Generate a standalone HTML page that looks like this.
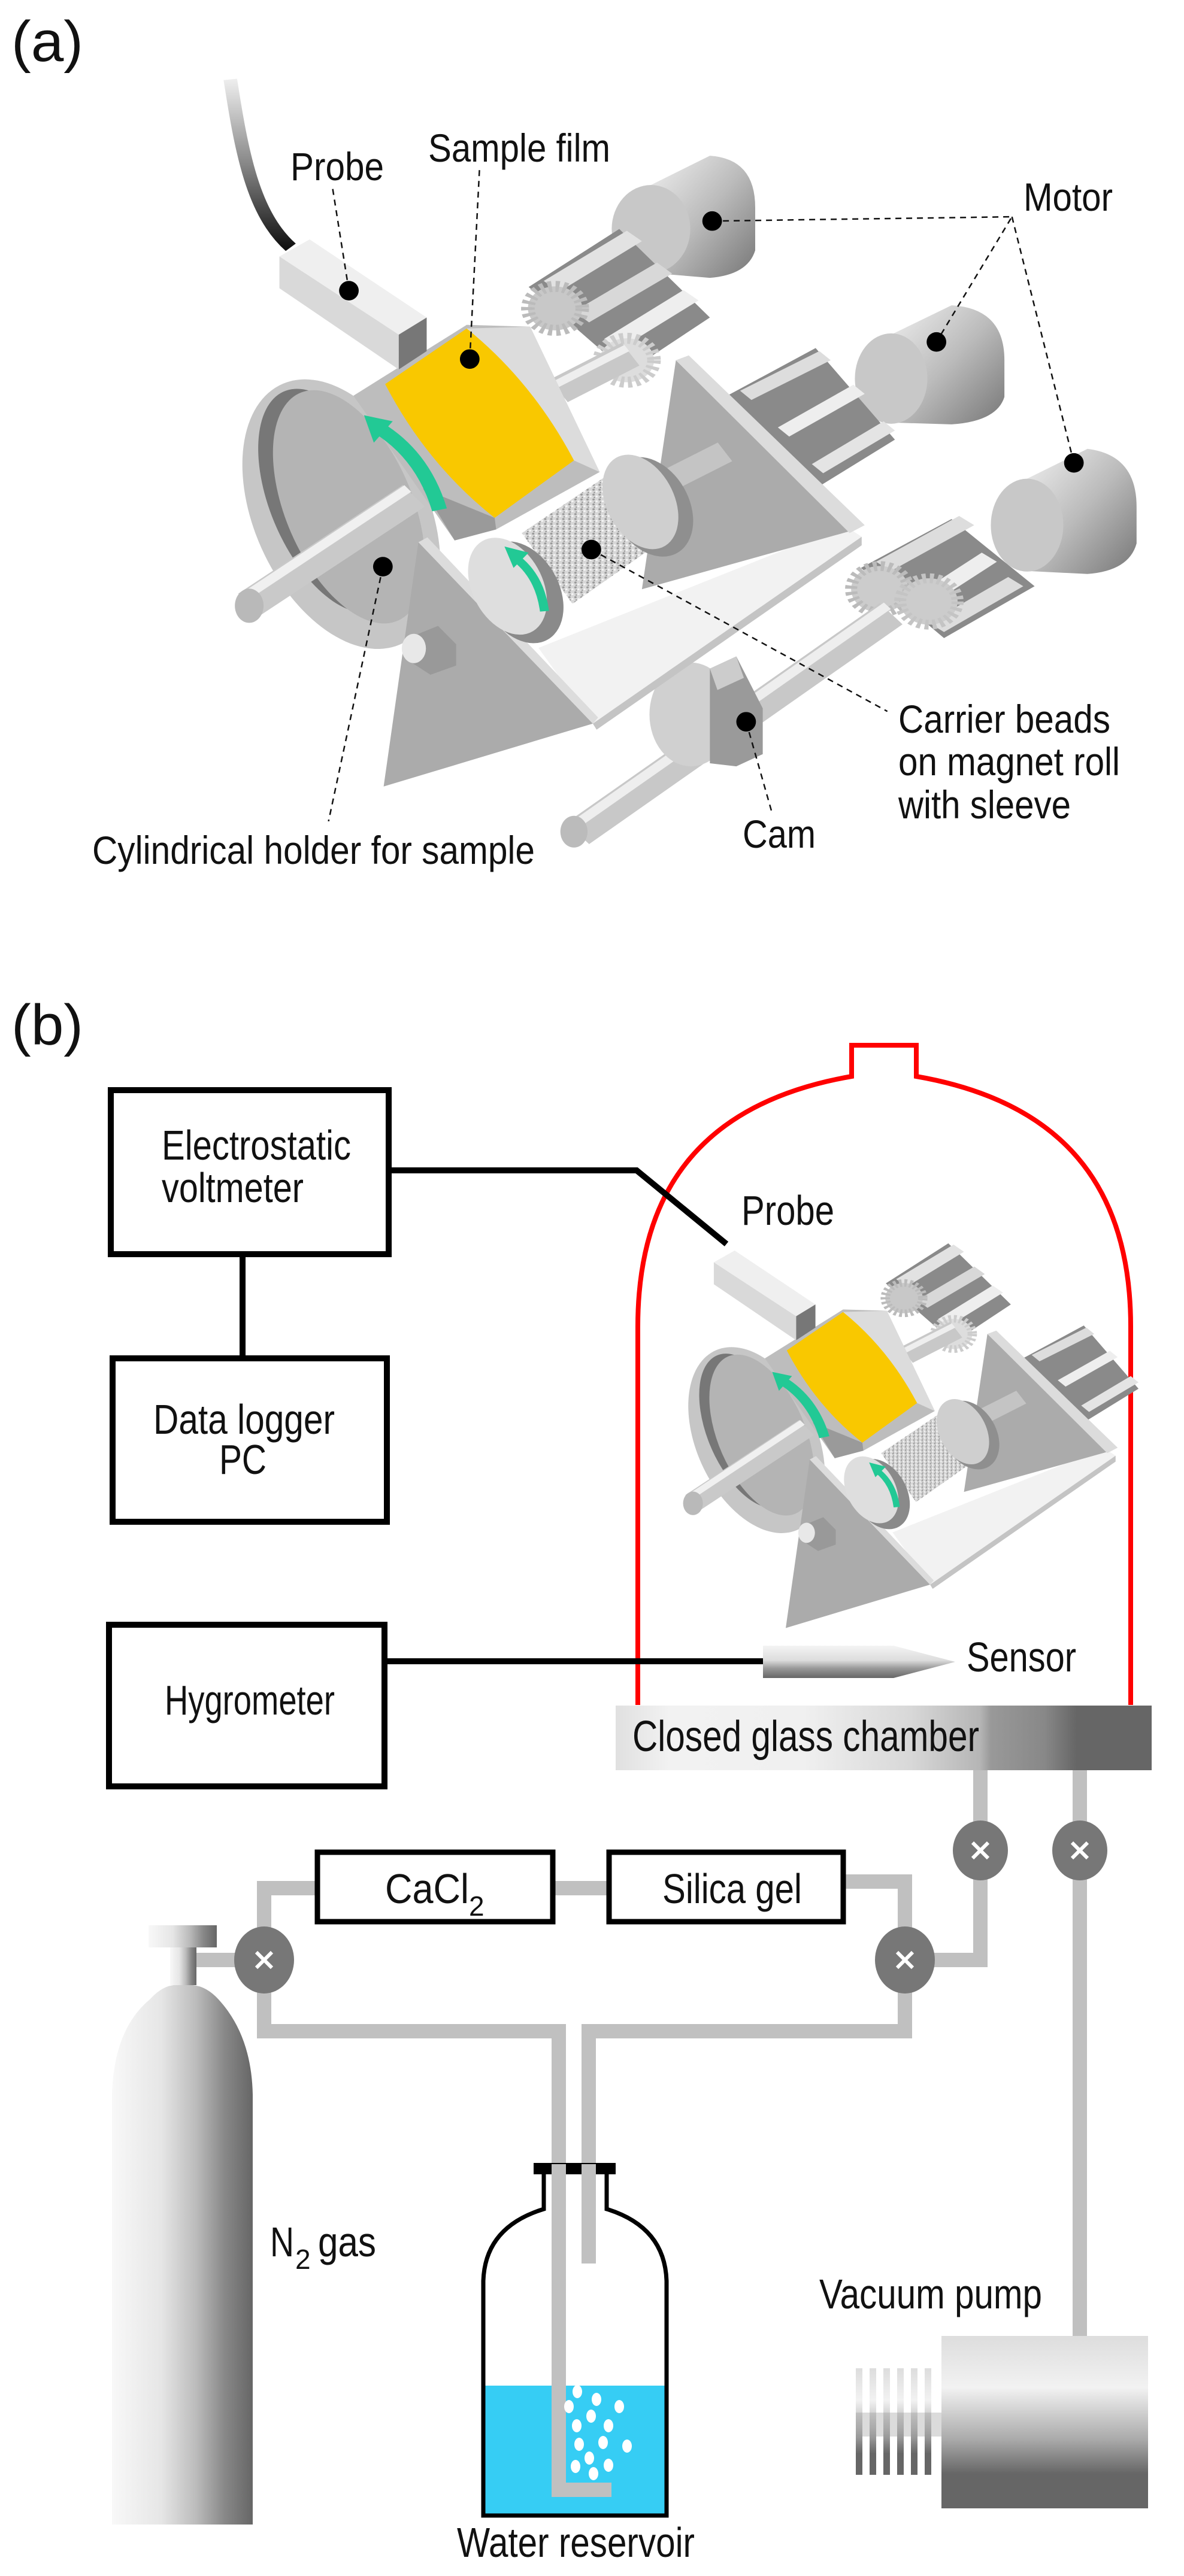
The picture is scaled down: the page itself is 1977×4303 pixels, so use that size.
<!DOCTYPE html>
<html><head><meta charset="utf-8"><style>
html,body{margin:0;padding:0;background:#fff;}
svg{display:block;}
text{font-family:"Liberation Sans",Arial,sans-serif;fill:#111;}
</style></head><body>
<svg width="1977" height="4303" viewBox="0 0 1977 4303" xmlns="http://www.w3.org/2000/svg">
<defs>
<linearGradient id="cable" x1="0" y1="0" x2="0" y2="1"><stop offset="0" stop-color="#eee"/><stop offset="0.5" stop-color="#888"/><stop offset="1" stop-color="#111"/></linearGradient>
<linearGradient id="motor" x1="0" y1="0" x2="1" y2="1"><stop offset="0" stop-color="#f0f0f0"/><stop offset="0.5" stop-color="#bbb"/><stop offset="1" stop-color="#777"/></linearGradient>
<linearGradient id="cyl" x1="0" y1="0" x2="1" y2="0"><stop offset="0" stop-color="#f8f8f8"/><stop offset="0.35" stop-color="#e6e6e6"/><stop offset="0.6" stop-color="#bbb"/><stop offset="0.8" stop-color="#888"/><stop offset="1" stop-color="#666"/></linearGradient>
<linearGradient id="pump" x1="0" y1="0" x2="0" y2="1"><stop offset="0" stop-color="#ddd"/><stop offset="0.3" stop-color="#f2f2f2"/><stop offset="0.6" stop-color="#aaa"/><stop offset="0.8" stop-color="#666"/><stop offset="1" stop-color="#666"/></linearGradient>
<linearGradient id="chamber" x1="0" y1="0" x2="1" y2="0"><stop offset="0" stop-color="#e0e0e0"/><stop offset="0.1" stop-color="#f2f2f2"/><stop offset="0.35" stop-color="#f0f0f0"/><stop offset="0.55" stop-color="#d8d8d8"/><stop offset="0.68" stop-color="#b5b5b5"/><stop offset="0.7" stop-color="#999"/><stop offset="0.8" stop-color="#888"/><stop offset="0.86" stop-color="#666"/><stop offset="1" stop-color="#666"/></linearGradient>
<linearGradient id="sensor" x1="0" y1="0" x2="0" y2="1"><stop offset="0" stop-color="#f4f4f4"/><stop offset="0.45" stop-color="#ddd"/><stop offset="0.7" stop-color="#999"/><stop offset="1" stop-color="#666"/></linearGradient>
<pattern id="beads" width="8" height="8" patternUnits="userSpaceOnUse"><rect width="8" height="8" fill="#d8d8d8"/><circle cx="2" cy="2" r="1.6" fill="#999"/><circle cx="6" cy="5" r="1.5" fill="#f6f6f6"/><circle cx="3" cy="6.5" r="1" fill="#888"/></pattern>
</defs>

<!-- (a) -->
<text x="19" y="102" font-size="96" textLength="120" lengthAdjust="spacingAndGlyphs">(a)</text>

<g transform="scale(1.261 1.02)">
  <path d="M305,130 C320,250 335,350 385,405" fill="none" stroke="url(#cable)" stroke-width="18"/>
  <!-- motor 1 -->
  <path d="M862,303 L940,255 Q1000,260 1000,340 L1000,410 Q990,450 940,455 L862,447 Z" fill="url(#motor)"/>
  <ellipse cx="862" cy="375" rx="52" ry="72" fill="#c8c8c8"/>
  <!-- motor 2 -->
  <path d="M1180,548 L1260,500 Q1330,505 1330,590 L1330,650 Q1320,690 1260,695 L1180,692 Z" fill="url(#motor)"/>
  <ellipse cx="1180" cy="620" rx="48" ry="74" fill="#c8c8c8"/>
  <!-- motor 3 -->
  <path d="M1360,784 L1440,735 Q1505,745 1505,830 L1505,890 Q1495,935 1440,940 L1360,935 Z" fill="url(#motor)"/>
  <ellipse cx="1360" cy="860" rx="48" ry="76" fill="#c8c8c8"/>
  <g>
    <polygon points="1140,930 1260,850 1370,960 1250,1045" fill="#8a8a8a"/>
    <polygon points="1160,920 1270,845 1290,860 1180,935" fill="#ddd"/>
    <polygon points="1200,985 1300,905 1320,920 1220,1000" fill="#eee"/>
    <polygon points="1230,1020 1335,945 1355,960 1250,1035" fill="#ddd"/>
    <circle cx="1165" cy="965" r="38" fill="#ccc" stroke="#bbb" stroke-width="16" stroke-dasharray="5 5"/>
    <circle cx="1230" cy="985" r="38" fill="#ccc" stroke="#c4c4c4" stroke-width="16" stroke-dasharray="5 5"/>
  </g>
  <line x1="765" y1="1365" x2="1180" y2="1005" stroke="#c8c8c8" stroke-width="46"/>
  <line x1="760" y1="1352" x2="1175" y2="992" stroke="#eee" stroke-width="14"/>
  <ellipse cx="760" cy="1362" rx="18" ry="26" fill="#bbb"/>
  <ellipse cx="915" cy="1170" rx="55" ry="85" fill="#d0d0d0"/>
  <polygon points="940,1095 975,1075 1010,1160 1010,1235 975,1255 940,1250" fill="#9a9a9a"/>
  <polygon points="940,1095 975,1075 985,1110 950,1130" fill="#ccc"/>

  <g id="app">
    <polygon points="700,470 820,375 940,520 830,610" fill="#8a8a8a"/>
    <polygon points="720,460 830,378 850,395 740,478" fill="#e2e2e2"/>
    <polygon points="760,510 870,430 890,448 780,528" fill="#d8d8d8"/>
    <polygon points="800,555 905,475 925,492 820,572" fill="#eee"/>
    <circle cx="735" cy="505" r="36" fill="#c8c8c8" stroke="#bbb" stroke-width="18" stroke-dasharray="5 5"/>
    <circle cx="830" cy="590" r="36" fill="#ddd" stroke="#ccc" stroke-width="18" stroke-dasharray="5 5"/>
    <polygon points="960,650 1080,570 1185,720 1080,800" fill="#8a8a8a"/>
    <polygon points="980,640 1085,575 1100,590 995,655" fill="#ddd"/>
    <polygon points="1030,700 1130,630 1145,645 1045,715" fill="#eee"/>
    <polygon points="1075,760 1170,690 1185,705 1090,775" fill="#e4e4e4"/>
    <polygon points="713,1061 1119,861 1141,879 785,1185" fill="#f2f2f2"/>
    <polygon points="785,1185 1141,879 1141,893 790,1195" fill="#c4c4c4"/>
    <polygon points="850,965 895,590 1125,870" fill="#ababab"/>
    <polygon points="895,590 912,582 1145,860 1125,873" fill="#dcdcdc"/>
    <line x1="740" y1="640" x2="835" y2="580" stroke="#c8c8c8" stroke-width="44"/>
    <line x1="735" y1="630" x2="830" y2="570" stroke="#eee" stroke-width="12"/>
    <line x1="880" y1="790" x2="960" y2="740" stroke="#c4c4c4" stroke-width="36"/>
    <ellipse cx="452" cy="842" rx="118" ry="228" transform="rotate(-17 452 842)" fill="#c6c6c6"/>
    <ellipse cx="438" cy="820" rx="82" ry="190" transform="rotate(-17 438 820)" fill="#777"/>
    <ellipse cx="462" cy="830" rx="86" ry="198" transform="rotate(-17 462 830)" fill="#b4b4b4"/>
    <polygon points="468,648 618,532 702,535 794,773 657,867 602,885" fill="#bdbdbd"/>
    <polygon points="702,535 794,773 760,754 618,538" fill="#dcdcdc"/>
    <polygon points="602,885 657,867 655,848 560,800" fill="#9a9a9a"/>
    <line x1="330" y1="990" x2="548" y2="812" stroke="#c9c9c9" stroke-width="46"/>
    <line x1="323" y1="978" x2="540" y2="800" stroke="#f0f0f0" stroke-width="14"/>
    <ellipse cx="330" cy="992" rx="19" ry="28" fill="#b9b9b9"/>
    <path d="M510,629 L618,538 Q705,625 760,754 L655,848 Q565,760 510,629 Z" fill="#f9c800"/>
    <polygon points="691,873 819,766 891,810 891,873 758,989" fill="url(#beads)"/>
    <ellipse cx="862" cy="830" rx="52" ry="84" transform="rotate(-18 862 830)" fill="#8f8f8f"/>
    <ellipse cx="848" cy="822" rx="46" ry="80" transform="rotate(-18 848 822)" fill="#cfcfcf"/>
    <polygon points="508,1288 554,888 785,1185" fill="#ababab"/>
    <polygon points="554,888 566,880 792,1175 785,1185" fill="#dcdcdc"/>
    <ellipse cx="690" cy="970" rx="52" ry="86" transform="rotate(-18 690 970)" fill="#8a8a8a"/>
    <ellipse cx="672" cy="960" rx="48" ry="82" transform="rotate(-18 672 960)" fill="#dedede"/>
    <polygon points="540,1045 580,1025 604,1055 604,1090 570,1105 545,1085" fill="#999"/>
    <ellipse cx="548" cy="1062" rx="16" ry="24" fill="#e8e8e8"/>
    <path d="M582,835 Q560,745 500,700" fill="none" stroke="#22c995" stroke-width="20"/>
    <polygon points="482,680 520,690 495,725" fill="#22c995"/>
    <path d="M721,1001 Q715,945 684,915" fill="none" stroke="#22c995" stroke-width="12"/>
    <polygon points="668,895 700,905 680,930" fill="#22c995"/>
    <polygon points="370,420 410,392 565,520 528,548" fill="#efefef"/>
    <polygon points="370,420 528,548 528,605 370,472" fill="#d9d9d9"/>
    <polygon points="528,548 565,520 565,575 528,605" fill="#777"/>
  </g>

  <g fill="none" stroke="#111" stroke-width="2.5" stroke-dasharray="10 8">
    <line x1="462" y1="476" x2="440" y2="305" vector-effect="non-scaling-stroke"/>
    <line x1="622" y1="588" x2="635" y2="275" vector-effect="non-scaling-stroke"/>
    <polyline points="943,362 1340,355 1240,560" vector-effect="non-scaling-stroke"/>
    <line x1="1340" y1="355" x2="1422" y2="758" vector-effect="non-scaling-stroke"/>
    <line x1="507" y1="928" x2="435" y2="1345" vector-effect="non-scaling-stroke"/>
    <line x1="783" y1="900" x2="1175" y2="1165" vector-effect="non-scaling-stroke"/>
    <line x1="988" y1="1182" x2="1022" y2="1330" vector-effect="non-scaling-stroke"/>
  </g>
  <g fill="#000">
    <ellipse cx="462" cy="476" rx="13" ry="16"/>
    <ellipse cx="622" cy="588" rx="13" ry="16"/>
    <ellipse cx="943" cy="362" rx="13" ry="16"/>
    <ellipse cx="1240" cy="560" rx="13" ry="16"/>
    <ellipse cx="1422" cy="758" rx="13" ry="16"/>
    <ellipse cx="507" cy="928" rx="13" ry="16"/>
    <ellipse cx="783" cy="900" rx="13" ry="16"/>
    <ellipse cx="988" cy="1182" rx="13" ry="16"/>
  </g>
</g>

<g font-size="66">
<text x="485" y="301" textLength="156" lengthAdjust="spacingAndGlyphs">Probe</text>
<text x="715" y="270" textLength="304" lengthAdjust="spacingAndGlyphs">Sample film</text>
<text x="1709" y="352" textLength="149" lengthAdjust="spacingAndGlyphs">Motor</text>
<text x="1500" y="1224" textLength="354" lengthAdjust="spacingAndGlyphs">Carrier beads</text>
<text x="1500" y="1295" textLength="370" lengthAdjust="spacingAndGlyphs">on magnet roll</text>
<text x="1500" y="1367" textLength="288" lengthAdjust="spacingAndGlyphs">with sleeve</text>
<text x="1240" y="1416" textLength="122" lengthAdjust="spacingAndGlyphs">Cam</text>
<text x="154" y="1443" textLength="739" lengthAdjust="spacingAndGlyphs">Cylindrical holder for sample</text>
</g>

<!-- (b) -->
<text x="19" y="1745" font-size="96" textLength="120" lengthAdjust="spacingAndGlyphs">(b)</text>

<path d="M1065,2848 L1065,2216 C1065,1980 1180,1840 1422,1798 L1422,1746 L1530,1746 L1530,1798 C1772,1840 1888,1980 1888,2216 L1888,2848" fill="none" stroke="#f00" stroke-width="8"/>

<use href="#app" transform="translate(870 1813) scale(0.69) scale(1.261 1.02)"/>

<g fill="none" stroke="#000" stroke-width="10">
<rect x="185" y="1821" width="464" height="274"/>
<rect x="188" y="2269" width="458" height="273"/>
<rect x="182" y="2714" width="460" height="270"/>
<line x1="405" y1="2100" x2="405" y2="2264"/>
<polyline points="654,1955 1063,1955 1213,2078"/>
<line x1="647" y1="2775" x2="1274" y2="2775"/>
</g>
<g font-size="70">
<text x="270" y="1937" textLength="316" lengthAdjust="spacingAndGlyphs">Electrostatic</text>
<text x="270" y="2008" textLength="237" lengthAdjust="spacingAndGlyphs">voltmeter</text>
<text x="256" y="2395" textLength="303" lengthAdjust="spacingAndGlyphs">Data logger</text>
<text x="366" y="2462" textLength="79" lengthAdjust="spacingAndGlyphs">PC</text>
<text x="275" y="2864" textLength="284" lengthAdjust="spacingAndGlyphs">Hygrometer</text>
<text x="1238" y="2046" textLength="155" lengthAdjust="spacingAndGlyphs">Probe</text>
<text x="1614" y="2792" textLength="183" lengthAdjust="spacingAndGlyphs">Sensor</text>
</g>

<rect x="1274" y="2749" width="218" height="54" fill="url(#sensor)"/>
<polygon points="1492,2749 1595,2776 1492,2803" fill="url(#sensor)"/>

<g fill="none" stroke="#c0c0c0" stroke-width="24">
<line x1="1637" y1="2950" x2="1637" y2="3286"/>
<line x1="1803" y1="2950" x2="1803" y2="3905"/>
<polyline points="1511,3274 1637,3274"/>
<polyline points="328,3274 441,3274"/>
<polyline points="526,3154 441,3154 441,3393 933,3393 933,4159 1021,4159"/>
<line x1="927" y1="3154" x2="1013" y2="3154"/>
<polyline points="1412,3143 1511,3143 1511,3393 983,3393 983,3781"/>
</g>

<rect x="1028" y="2849" width="895" height="108" fill="url(#chamber)"/>
<text x="1056" y="2925" font-size="72" textLength="579" lengthAdjust="spacingAndGlyphs">Closed glass chamber</text>

<g>
<ellipse cx="441" cy="3274" rx="50" ry="56" fill="#777"/>
<ellipse cx="1511" cy="3274" rx="50" ry="56" fill="#777"/>
<ellipse cx="1637" cy="3091" rx="46" ry="50" fill="#777"/>
<ellipse cx="1803" cy="3091" rx="46" ry="50" fill="#777"/>
<g stroke="#fff" stroke-width="6">
<path d="M428,3261 L454,3287 M454,3261 L428,3287"/>
<path d="M1498,3261 L1524,3287 M1524,3261 L1498,3287"/>
<path d="M1624,3078 L1650,3104 M1650,3078 L1624,3104"/>
<path d="M1790,3078 L1816,3104 M1816,3078 L1790,3104"/>
</g>
</g>

<rect x="530" y="3094" width="393" height="116" fill="#fff" stroke="#000" stroke-width="9"/>
<rect x="1017" y="3094" width="391" height="116" fill="#fff" stroke="#000" stroke-width="9"/>
<text x="643" y="3179" font-size="70" textLength="140" lengthAdjust="spacingAndGlyphs">CaCl</text>
<text x="783" y="3200" font-size="46">2</text>
<text x="1106" y="3179" font-size="70" textLength="233" lengthAdjust="spacingAndGlyphs">Silica gel</text>

<rect x="248" y="3216" width="114" height="37" fill="url(#cyl)"/>
<rect x="284" y="3253" width="44" height="63" fill="url(#cyl)"/>
<path d="M187,4217 L187,3499 Q190,3390 250,3340 Q270,3318 290,3316 L322,3316 Q345,3318 365,3340 Q420,3400 422,3499 L422,4217 Z" fill="url(#cyl)"/>
<text x="451" y="3769" font-size="70" textLength="40" lengthAdjust="spacingAndGlyphs">N</text>
<text x="493" y="3790" font-size="46">2</text>
<text x="531" y="3769" font-size="70" textLength="97" lengthAdjust="spacingAndGlyphs">gas</text>

<rect x="807" y="3985" width="306" height="217" fill="#36cdf4"/>
<path d="M908,3632 L908,3690 Q810,3720 807,3810 L807,4202 L1113,4202 L1113,3810 Q1110,3720 1013,3690 L1013,3632" fill="none" stroke="#000" stroke-width="7"/>
<rect x="891" y="3613" width="137" height="19" fill="#000"/>
<rect x="921" y="3615" width="24" height="555" fill="#c0c0c0"/>
<rect x="971" y="3615" width="24" height="166" fill="#c0c0c0"/>
<rect x="921" y="4147" width="100" height="24" fill="#c0c0c0"/>
<g fill="#fff">
<ellipse cx="964" cy="3995" rx="8" ry="11"/><ellipse cx="996" cy="4008" rx="8" ry="11"/><ellipse cx="950" cy="4020" rx="8" ry="11"/>
<ellipse cx="1034" cy="4020" rx="8" ry="11"/><ellipse cx="987" cy="4036" rx="8" ry="11"/><ellipse cx="963" cy="4052" rx="8" ry="11"/>
<ellipse cx="1016" cy="4052" rx="8" ry="11"/><ellipse cx="967" cy="4083" rx="8" ry="11"/><ellipse cx="1007" cy="4080" rx="8" ry="11"/>
<ellipse cx="1047" cy="4086" rx="8" ry="11"/><ellipse cx="984" cy="4106" rx="8" ry="11"/><ellipse cx="961" cy="4120" rx="8" ry="11"/>
<ellipse cx="1016" cy="4118" rx="8" ry="11"/><ellipse cx="991" cy="4132" rx="8" ry="11"/>
</g>
<text x="763" y="4271" font-size="70" textLength="397" lengthAdjust="spacingAndGlyphs">Water reservoir</text>

<rect x="1572" y="3902" width="345" height="288" fill="url(#pump)"/>
<g fill="url(#pump)">
<rect x="1429" y="3956" width="11" height="178"/><rect x="1452" y="3956" width="11" height="178"/>
<rect x="1475" y="3956" width="11" height="178"/><rect x="1498" y="3956" width="11" height="178"/>
<rect x="1521" y="3956" width="11" height="178"/><rect x="1544" y="3956" width="11" height="178"/>
</g>
<rect x="1429" y="4030" width="143" height="40" fill="#999" opacity="0.35"/>
<text x="1368" y="3856" font-size="70" textLength="372" lengthAdjust="spacingAndGlyphs">Vacuum pump</text>
</svg>
</body></html>
